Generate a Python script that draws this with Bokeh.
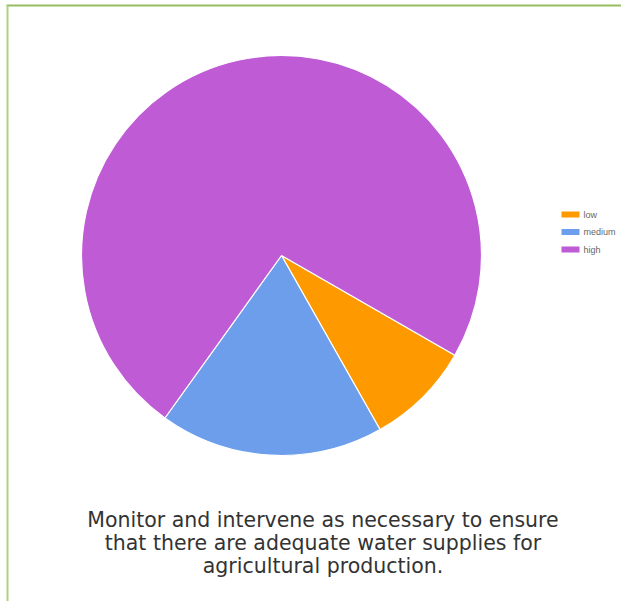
import math
from bokeh.plotting import figure
from bokeh.models import Range1d, ColumnDataSource
from bokeh.core.properties import value
from bokeh.embed import file_html
from bokeh.resources import INLINE

# ---- data ----
categories = ["low", "medium", "high"]
values = [8.5, 18.1, 73.4]
colors = ["#ff9900", "#6d9eeb", "#c05bd6"]
caption_lines = [
    "Monitor and intervene as necessary to ensure",
    "that there are adequate water supplies for",
    "agricultural production.",
]

# ---- layout (page pixel coordinates; y measured downward on the page) ----
W, H = 621, 601
def py(y):  # page y -> data y
    return H - y

p = figure(width=W, height=H, output_backend="svg", toolbar_location=None,
           x_range=Range1d(0, W), y_range=Range1d(0, H),
           min_border=0)
p.axis.visible = False
p.grid.visible = False
p.outline_line_color = None
p.background_fill_color = "white"
p.border_fill_color = "white"

# frame border (green)
p.line(x=[6, W], y=[py(5), py(5)], line_color="#97bd63", line_width=2)
p.line(x=[7, 7], y=[py(5), py(H)], line_color="#afd184", line_width=2)

# pie
cx, cy, r = 281, py(255), 200
start0 = math.radians(-29.9)
total = sum(values)
starts, ends = [], []
cum = 0.0
for v in values:
    starts.append(start0 - 2 * math.pi * cum / total)
    cum += v
    ends.append(start0 - 2 * math.pi * cum / total)
src = ColumnDataSource(dict(start=starts, end=ends, color=colors, cat=categories))
p.wedge(x=cx, y=cy, radius=r, radius_units="screen", start_angle="start", end_angle="end",
        direction="clock", fill_color="color", line_color="white", line_width=1.2, source=src)

# legend (manual)
lx, ly0, dy = 570, 214, 17.5
lsrc = ColumnDataSource(dict(
    x=[lx] * len(categories),
    y=[py(ly0 + i * dy) for i in range(len(categories))],
    tx=[lx + 13] * len(categories),
    color=colors, cat=categories))
p.rect(x="x", y="y", width=18, height=6, fill_color="color", line_color=None, source=lsrc)
p.text(x="tx", y="y", text="cat", text_font=value("Liberation Sans"), text_font_size="9px",
       text_color="#666666", text_baseline="middle", text_align="left", source=lsrc)

# caption
csrc = ColumnDataSource(dict(
    x=[322.5] * len(caption_lines),
    y=[py(519 + i * 23.3) for i in range(len(caption_lines))],
    t=caption_lines))
p.text(x="x", y="y", text="t", text_font=value("DejaVu Sans"), text_font_size="20.5px",
       text_color="#333333", text_align="center", text_baseline="alphabetic", source=csrc)

open("out.html", "w").write(file_html(p, INLINE))
